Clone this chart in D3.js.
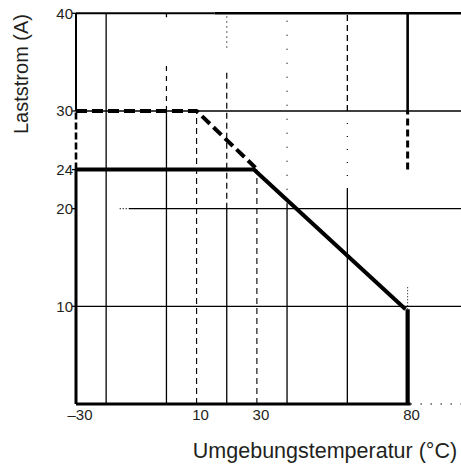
<!DOCTYPE html>
<html><head><meta charset="utf-8">
<script src="https://cdn.jsdelivr.net/npm/d3@7"></script>
<style>html,body{margin:0;padding:0;background:#fff;}svg{display:block;}</style>
</head><body>
<svg id="c" width="461" height="466"></svg>
<script>
// ---- data ----
const xDomain = [-30, 97.7];
const yDomain = [0, 40];
const yTickValues = [10, 20, 24, 30, 40];
const xTickValues = [-30, 10, 30, 80];
const gridXValues = [-20, 0, 20, 40, 60];
const gridYValues = [10, 20, 30];
const curve30A = [[-30, 30], [10, 30], [29.5, 24.2]];   // dashed curve
const curve24A = [[-30, 24], [29, 24], [79.3, 9.7]];    // solid curve
const cutoffX = 80;
const cutoffY = 9.7;
const xTitle = "Umgebungstemperatur (°C)";
const yTitle = "Laststrom (A)";

// ---- drawing ----
const svg = d3.select("#c");
const x = d3.scaleLinear().domain(xDomain).range([76, 461]);
const y = d3.scaleLinear().domain(yDomain).range([404, 13.3]);
const ink = "#000";
const textInk = "#231f20";
const font = "'Liberation Sans', Arial, Helvetica, sans-serif";

function vseg(xv, y0, y1, w, dash) {
  const l = svg.append("line").attr("x1", x(xv)).attr("x2", x(xv))
    .attr("y1", y(y0)).attr("y2", y(y1))
    .attr("stroke", ink).attr("stroke-width", w);
  if (dash) l.attr("stroke-dasharray", dash);
}
function hseg(yv, x0, x1, w, dash) {
  const l = svg.append("line").attr("x1", x(x0)).attr("x2", x(x1))
    .attr("y1", y(yv)).attr("y2", y(yv))
    .attr("stroke", ink).attr("stroke-width", w);
  if (dash) l.attr("stroke-dasharray", dash);
}

// horizontal grid
gridYValues.forEach(v => {
  if (v === 20) {
    hseg(v, -12.5, xDomain[1], 1.3);
    hseg(v, -15.5, -12.5, 1.2, "1,2");
  } else {
    hseg(v, xDomain[0], xDomain[1], 1.3);
  }
});
// top frame
hseg(yDomain[1], xDomain[0], 16, 2);
hseg(yDomain[1], 16, xDomain[1], 2.4);

// vertical grid (scanned-style broken upper parts)
gridXValues.forEach(v => {
  if (v === -20) {
    vseg(v, 0, 40, 1.3);
  } else if (v === 0) {
    vseg(v, 0, 30, 1.3);
    vseg(v, 30, 35, 1.2, "5,5");
    vseg(v, 39.6, 40, 1.3);
  } else if (v === 20) {
    vseg(v, 0, 20, 1.3);
    vseg(v, 20, 34, 1.2, "6,4");
    vseg(v, 36.5, 40, 1.2, "1,4");
  } else if (v === 40) {
    vseg(v, 0, 20.5, 1.3);
    vseg(v, 20.5, 40, 1.2, "1,13");
  } else if (v === 60) {
    vseg(v, 0, 22, 1.3);
    vseg(v, 22, 30, 1.2, "1,12");
    vseg(v, 30, 40, 1.3, "6,4");
  }
});

// reference temperature dashed verticals
vseg(10, 0, 30, 1.1, "6,4");
vseg(30, 0, 24, 1.1, "6,4");

// cut-off line at 80
vseg(cutoffX, 30, 40, 2.6);
vseg(cutoffX, 24, 30, 3, "7,4");
vseg(cutoffX, cutoffY, 12, 1, "1,2");
vseg(cutoffX, 0, cutoffY, 4.2);

// axes
vseg(xDomain[0], 30, 40, 2);
vseg(xDomain[0], 24, 30, 2.6, "7,3");
vseg(xDomain[0], 0, 24, 3);
hseg(0, xDomain[0], 81, 3);
hseg(0, 81, xDomain[1], 1.5, "1,9");

// y ticks
yTickValues.forEach(v => {
  svg.append("line").attr("x1", x(xDomain[0]) - 4).attr("x2", x(xDomain[0]))
    .attr("y1", y(v)).attr("y2", y(v)).attr("stroke", ink).attr("stroke-width", 1.3);
  svg.append("text").attr("x", x(xDomain[0]) - 3).attr("y", y(v))
    .attr("dy", "0.36em").attr("text-anchor", "end")
    .attr("font-family", font).attr("font-size", 15).attr("fill", textInk)
    .text(v);
});
// x tick labels
const fmt = v => v < 0 ? "\u2013" + Math.abs(v) : String(v);
xTickValues.forEach(v => {
  svg.append("text").attr("x", x(v) + 4).attr("y", 420)
    .attr("text-anchor", "middle")
    .attr("font-family", font).attr("font-size", 15).attr("fill", textInk)
    .text(fmt(v));
});

// curves
const line = d3.line().x(d => x(d[0])).y(d => y(d[1]));
svg.append("path").datum(curve30A).attr("d", line)
  .attr("fill", "none").attr("stroke", ink).attr("stroke-width", 4)
  .attr("stroke-linejoin", "round").attr("stroke-dasharray", "11,5");
svg.append("path").datum(curve24A).attr("d", line)
  .attr("fill", "none").attr("stroke", ink).attr("stroke-width", 4)
  .attr("stroke-linejoin", "round");

// titles
svg.append("text").attr("transform", "translate(28,74) rotate(-90)")
  .attr("text-anchor", "middle").attr("font-family", font)
  .attr("font-size", 20).attr("fill", textInk).text(yTitle);
svg.append("text").attr("x", 325).attr("y", 458)
  .attr("text-anchor", "middle").attr("font-family", font)
  .attr("font-size", 21.5).attr("fill", textInk).text(xTitle);
</script>
</body></html>
